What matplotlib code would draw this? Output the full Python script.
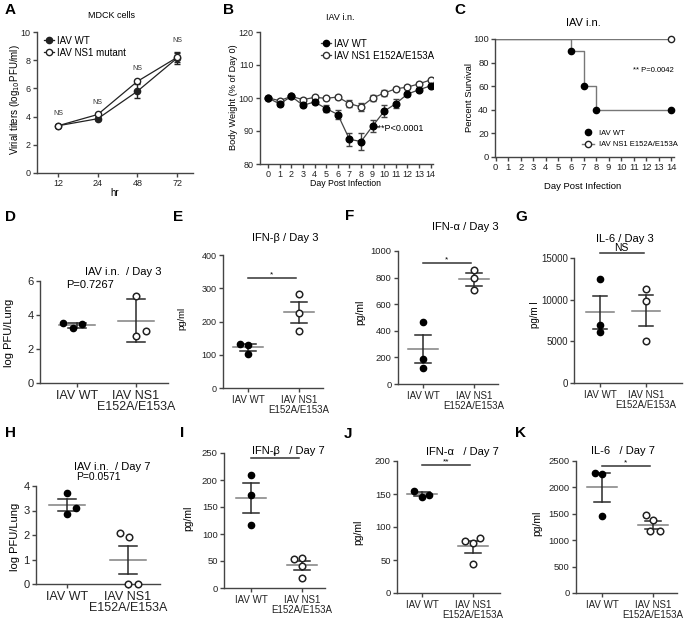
import matplotlib.pyplot as plt
import numpy as np
from matplotlib.lines import Line2D

plt.rcParams['font.family'] = ['Liberation Sans', 'DejaVu Sans']

W, H = 685, 619

# --- A: viral titers in MDCK cells ---
hours = ['12', '24', '48', '72']
a_wt = [3.35, 3.85, 5.8, 8.15]
a_wt_err = [0.08, 0.1, 0.5, 0.45]
a_mut = [3.35, 4.15, 6.5, 8.2]
a_mut_err = [0.05, 0.08, 0.1, 0.3]

# --- B: body weight ---
days = list(range(15))
b_wt = [100, 98.2, 100.5, 97.8, 98.8, 96.8, 95.0, 87.5, 86.8, 91.5, 96.0, 98.3, 101.2, 102.5, 103.7]
b_wt_err = [0.3, 0.5, 0.4, 0.5, 0.6, 1.0, 1.5, 2.0, 2.5, 1.8, 1.8, 1.3, 0.5, 0.5, 0.5]
b_mut = [100, 99.2, 100.5, 99.5, 100.2, 99.9, 100.3, 98.3, 97.3, 100.0, 101.5, 102.8, 103.3, 104.3, 105.5]
b_mut_err = [0.3, 0.4, 0.4, 0.4, 0.5, 0.5, 0.5, 1.0, 1.2, 1.0, 1.0, 0.6, 0.5, 0.4, 0.3]

# --- C: survival ---
c_wt_days = [0, 6, 7, 8, 14]
c_wt_surv = [100, 90, 60, 40, 40]
c_mut_days = [0, 14]
c_mut_surv = [100, 100]

groups = ['IAV WT', 'IAV NS1\nE152A/E153A']

# --- D: lung titer day 3 ---
d_wt = [3.55, 3.25, 3.45]
d_wt_dx = [-0.24, -0.07, 0.08]
d_mut = [5.1, 2.75, 3.05]
d_mut_dx = [0, 0, 0.17]
d_mean = [3.4, 3.65]
d_err = [(3.25, 3.55), (2.4, 4.95)]

# --- E: IFN-b day 3 ---
e_wt = [133, 128, 101]
e_wt_dx = [-0.16, 0, 0]
e_mut = [284, 225, 170]
e_mut_dx = [0, 0, 0]
e_mean = [122, 228]
e_err = [(112, 131), (195, 260)]

# --- F: IFN-a day 3 ---
f_wt = [465, 185, 120]
f_wt_dx = [0, 0, 0]
f_mut = [860, 800, 705]
f_mut_dx = [0, 0, 0]
f_mean = [262, 790]
f_err = [(155, 365), (740, 835)]

# --- G: IL-6 day 3 ---
g_wt = [12500, 7000, 6100]
g_wt_dx = [0, 0, 0]
g_mut = [11300, 9900, 5100]
g_mut_dx = [0, 0, 0]
g_mean = [8500, 8700]
g_err = [(6500, 10500), (6850, 10600)]

# --- H: lung titer day 7 ---
h_wt = [3.7, 2.85, 3.1]
h_wt_dx = [0, 0, 0.15]
h_mut = [2.1, 1.9, 0, 0]
h_mut_dx = [-0.13, 0.02, 0, 0.16]
h_mean = [3.22, 1.0]
h_err = [(2.98, 3.45), (0.42, 1.57)]

# --- I: IFN-b day 7 ---
i_wt = [210, 172, 116]
i_wt_dx = [0, 0, 0]
i_mut = [53, 55, 40, 18]
i_mut_dx = [-0.16, 0, 0, 0]
i_mean = [167, 42]
i_err = [(139, 194), (33, 50)]

# --- J: IFN-a day 7 ---
j_wt = [155, 146, 149]
j_wt_dx = [-0.16, 0, 0.14]
j_mut = [79, 76, 83, 44]
j_mut_dx = [-0.16, 0, 0.14, 0]
j_mean = [150, 71]
j_err = [(147, 153), (61, 79)]

# --- K: IL-6 day 7 ---
k_wt = [2280, 2260, 1460]
k_wt_dx = [-0.14, 0, 0]
k_mut = [1470, 1380, 1180, 1180]
k_mut_dx = [-0.14, 0, -0.06, 0.14]
k_mean = [2000, 1290]
k_err = [(1730, 2270), (1210, 1370)]

AX = '#444444'

fig = plt.figure(figsize=(W / 100, H / 100), dpi=100)


def px_axes(l, t, r, b):
    return fig.add_axes([l / W, 1 - b / H, (r - l) / W, (b - t) / H])


def ftext(x, y, s, **kw):
    fig.text(x / W, 1 - y / H, s, **kw)


def style(ax, fs):
    for s in ['top', 'right']:
        ax.spines[s].set_visible(False)
    for s in ['left', 'bottom']:
        ax.spines[s].set_color(AX)
        ax.spines[s].set_linewidth(1)
    ax.tick_params(length=3, width=1, color=AX, labelsize=fs, pad=1.5, labelcolor='#222')
    ax.patch.set_alpha(0)


# ---------------- A ----------------
ax = px_axes(37, 32, 193, 173)
style(ax, 6.5)
x = np.arange(len(hours))
ax.errorbar(x, a_wt, yerr=a_wt_err, color='#222', marker='o', ms=4.5, lw=0.9,
            capsize=2.5, elinewidth=1)
ax.errorbar(x, a_mut, yerr=a_mut_err, color='#222', marker='o', ms=4.5, lw=0.9,
            mfc='white', mew=1, capsize=2.5, elinewidth=1)
for xi, a, ea, b, eb in zip(x, a_wt, a_wt_err, a_mut, a_mut_err):
    ax.text(xi, max(a + ea, b + eb) + 0.55, 'NS', ha='center', va='bottom', fontsize=5, color='#333')
ax.set_xlim(-0.53, 3.4)
ax.set_ylim(0, 10)
ax.set_xticks(x)
ax.set_xticklabels(hours)
ax.set_yticks(range(0, 11, 2))
handles = [Line2D([], [], color='#222', marker='o', ms=4.5, lw=0.9),
           Line2D([], [], color='#222', marker='o', ms=4.5, lw=0.9, mfc='white')]
ax.legend(handles, ['IAV WT', 'IAV NS1 mutant'], loc='upper left', frameon=False,
          bbox_to_anchor=(39 / W, 1 - 31 / H), bbox_transform=fig.transFigure,
          fontsize=7, handlelength=1.0, handletextpad=0.4, labelspacing=0.2, borderpad=0)
ftext(112, 15, 'MDCK cells', ha='center', va='center', fontsize=6.5)
ftext(15, 100, 'Virial titers (log$_{10}$PFU/ml)', ha='center', va='center', rotation=90, fontsize=7)
ftext(115, 193, 'hr', ha='center', va='center', fontsize=7)

# ---------------- B ----------------
ax = px_axes(260, 32, 433, 164)
style(ax, 6.5)
ax.errorbar(days, b_mut, yerr=b_mut_err, color='#444', marker='o', ms=4.8, lw=0.9,
            mfc='white', mec='#333', mew=1, capsize=2, elinewidth=1)
ax.errorbar(days, b_wt, yerr=b_wt_err, color='#444', marker='o', ms=4.8, lw=0.9,
            mfc='black', mec='black', capsize=2, elinewidth=1)
ax.set_xlim(-0.7, 14.2)
ax.set_ylim(80, 120)
ax.set_xticks(days)
ax.set_yticks(range(80, 121, 10))
ax.tick_params(axis='x', pad=1)
handles = [Line2D([], [], color='#444', marker='o', ms=4.5, lw=0.9, mfc='black', mec='black'),
           Line2D([], [], color='#444', marker='o', ms=4.5, lw=0.9, mfc='white', mec='#333')]
ax.legend(handles, ['IAV WT', 'IAV NS1 E152A/E153A'], loc='upper left', frameon=False,
          bbox_to_anchor=(316 / W, 1 - 34 / H), bbox_transform=fig.transFigure,
          fontsize=7, handlelength=1.0, handletextpad=0.4, labelspacing=0.2, borderpad=0)
ax.text(9.2, 90.9, '***P<0.0001', ha='left', va='center', fontsize=6.5)
ftext(340, 17, 'IAV i.n.', ha='center', va='center', fontsize=6.5)
ftext(234, 97, 'Body Weight (% of Day 0)', ha='center', va='center', rotation=90, fontsize=6.6)
ftext(345, 183, 'Day Post Infection', ha='center', va='center', fontsize=6.3)

# ---------------- C ----------------
ax = px_axes(495, 39, 674, 157)
style(ax, 6.8)
ax.step(c_mut_days, c_mut_surv, where='post', color='#777', lw=1)
ax.step(c_wt_days, c_wt_surv, where='post', color='#777', lw=1)
ax.plot(c_wt_days[1:], c_wt_surv[1:], 'o', color='black', ms=4.5, clip_on=False)
ax.plot(c_mut_days[1:], c_mut_surv[1:], 'o', mfc='white', mec='#222', mew=1, ms=4.5, clip_on=False)
ax.set_xlim(-0.05, 14.2)
ax.set_ylim(0, 100)
ax.set_xticks(range(15))
ax.set_yticks(range(0, 101, 20))
ax.tick_params(axis='x', pad=1)
handles = [Line2D([], [], color='#777', marker='o', ms=4.5, lw=0, mfc='black', mec='black'),
           Line2D([], [], color='#777', marker='o', ms=4.5, lw=1, mfc='white', mec='#222')]
ax.legend(handles, ['IAV WT', 'IAV NS1 E152A/E153A'], loc='upper left', frameon=False,
          bbox_to_anchor=(578 / W, 1 - 126 / H), bbox_transform=fig.transFigure,
          fontsize=5.5, handlelength=1.6, handletextpad=0.6, labelspacing=0.5, borderpad=0)
ax.text(10.9, 73, '** P=0.0042', ha='left', va='center', fontsize=5.5)
ftext(583, 23, 'IAV i.n.', ha='center', va='center', fontsize=8)
ftext(469, 97, 'Percent Survival', ha='center', va='center', rotation=90, fontsize=6.8)
ftext(583, 187, 'Day Post Infection', ha='center', va='center', fontsize=6.8)


# ---------------- dot plots ----------------
def dot_panel(l, t, r, b, c1, c2, ymax, ystep, wt, wt_dx, mut, mut_dx, means, errs,
              tick_fs, xlab_fs, sig=None, sig_y=None):
    ax = px_axes(l, t, r, b)
    style(ax, tick_fs)
    unit = c2 - c1
    ax.set_xlim(1 - (c1 - l) / unit, 2 + (r - c2) / unit)
    ax.set_ylim(0, ymax)
    ax.set_yticks(np.arange(0, ymax + ystep / 2, ystep))
    ax.set_xticks([1, 2])
    ax.set_xticklabels(groups, fontsize=xlab_fs, linespacing=0.95)
    ax.tick_params(axis='x', pad=2)
    for xc, m, (lo, hi) in zip([1, 2], means, errs):
        ax.plot([xc - 0.3, xc + 0.3], [m, m], color='#808080', lw=1.1, zorder=2)
        ax.plot([xc, xc], [lo, hi], color='#2a2a2a', lw=1.1, zorder=2)
        for yy in (lo, hi):
            ax.plot([xc - 0.15, xc + 0.15], [yy, yy], color='#2a2a2a', lw=1.1, zorder=2)
    ax.plot(1 + np.array(wt_dx), wt, 'o', color='black', ms=4.5, zorder=3, clip_on=False)
    ax.plot(2 + np.array(mut_dx), mut, 'o', mfc='white', mec='#222', mew=1.1, ms=4.7,
            zorder=3, clip_on=False)
    if sig is not None:
        ax.plot([1, 1.95], [sig_y, sig_y], color='#333', lw=1.1, clip_on=False)
        ax.text(1.47, sig_y, sig, ha='center', va='bottom', fontsize=6 if sig != 'NS' else 7.5)
    return ax


# D
ax = dot_panel(40, 281, 168, 383, 77, 136, 6, 2, d_wt, d_wt_dx, d_mut, d_mut_dx,
               d_mean, d_err, 8, 9)
ax.text(1.22, 5.75, 'P=0.7267', ha='center', va='center', fontsize=8)
ftext(123, 272, 'IAV i.n.  / Day 3', ha='center', va='center', fontsize=8)
ftext(9, 333, 'log PFU/Lung', ha='center', va='center', rotation=90, fontsize=8)

# E
dot_panel(223, 255, 323, 388, 248, 299, 400, 100, e_wt, e_wt_dx, e_mut, e_mut_dx,
          e_mean, e_err, 6.5, 7, sig='*', sig_y=330)
ftext(285, 238, 'IFN-β / Day 3', ha='center', va='center', fontsize=8)
ftext(182, 318, 'pg/ml', ha='center', va='center', rotation=90, fontsize=6.8)

# F
dot_panel(398, 251, 498, 384, 423, 474, 1000, 200, f_wt, f_wt_dx, f_mut, f_mut_dx,
          f_mean, f_err, 6.8, 7, sig='*', sig_y=910)
ftext(465, 227, 'IFN-α / Day 3', ha='center', va='center', fontsize=8)
ftext(360, 312, 'pg/ml', ha='center', va='center', rotation=90, fontsize=7.5)

# G
dot_panel(574, 258, 682, 383, 600, 646, 15000, 5000, g_wt, g_wt_dx, g_mut, g_mut_dx,
          g_mean, g_err, 7, 7, sig='NS', sig_y=15600)
ftext(625, 239, 'IL-6 / Day 3', ha='center', va='center', fontsize=8)
ftext(535, 315, 'pg/m l', ha='center', va='center', rotation=90, fontsize=7)

# H
ax = dot_panel(36, 486, 160, 584, 67, 128, 4, 1, h_wt, h_wt_dx, h_mut, h_mut_dx,
               h_mean, h_err, 8, 9)
ftext(112, 467, 'IAV i.n.  / Day 7', ha='center', va='center', fontsize=8)
ftext(98, 477, 'P=0.0571', ha='center', va='center', fontsize=7.5)
ftext(15, 537, 'log PFU/Lung', ha='center', va='center', rotation=90, fontsize=8)

# I
dot_panel(224, 453, 325, 588, 251, 302, 250, 50, i_wt, i_wt_dx, i_mut, i_mut_dx,
          i_mean, i_err, 6.8, 7, sig='*', sig_y=240)
ftext(288, 451, 'IFN-β   / Day 7', ha='center', va='center', fontsize=8)
ftext(188, 518, 'pg/ml', ha='center', va='center', rotation=90, fontsize=7.5)

# J
dot_panel(397, 461, 500, 593, 422, 473, 200, 50, j_wt, j_wt_dx, j_mut, j_mut_dx,
          j_mean, j_err, 6.8, 7, sig='**', sig_y=194)
ftext(462, 452, 'IFN-α   / Day 7', ha='center', va='center', fontsize=8)
ftext(358, 532, 'pg/ml', ha='center', va='center', rotation=90, fontsize=7.5)

# K
dot_panel(576, 461, 677, 593, 602, 653, 2500, 500, k_wt, k_wt_dx, k_mut, k_mut_dx,
          k_mean, k_err, 6.8, 7, sig='*', sig_y=2400)
ftext(623, 451, 'IL-6   / Day 7', ha='center', va='center', fontsize=8)
ftext(537, 523, 'pg/ml', ha='center', va='center', rotation=90, fontsize=7.5)

# panel letters
letters = ['A', 'B', 'C', 'D', 'E', 'F', 'G', 'H', 'I', 'J', 'K']
letter_xy = [(10, 10), (229, 10), (460, 10), (10, 217), (178, 217), (350, 216),
             (521, 217), (10, 433), (182, 433), (348, 434), (521, 433)]
for s, (lx, ly) in zip(letters, letter_xy):
    ftext(lx, ly, s, ha='center', va='center', fontsize=11, fontweight='bold')

fig.savefig('out.png', dpi=100)
